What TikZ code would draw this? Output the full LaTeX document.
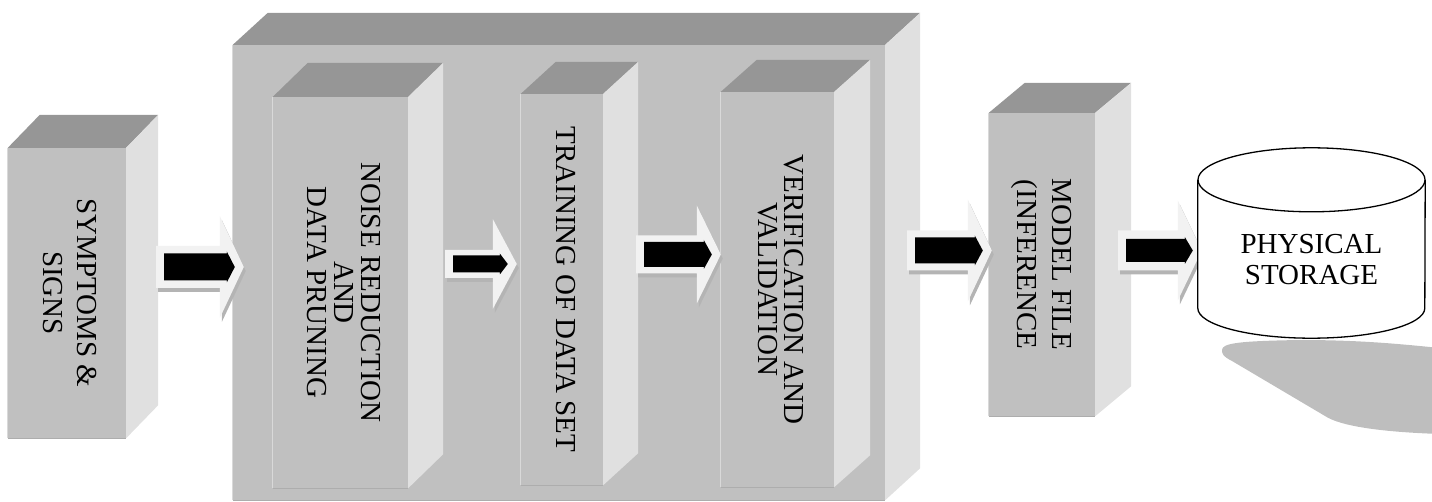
\documentclass[tikz,border=0pt]{standalone}
\usepackage{fontspec}
\setmainfont{Liberation Serif}
\usetikzlibrary{calc}

\definecolor{boxfront}{HTML}{C0C0C0}
\definecolor{boxtop}{HTML}{969696}
\definecolor{boxside}{HTML}{E0E0E0}
\definecolor{arrowlight}{HTML}{F2F2F2}
\definecolor{arrowshade}{HTML}{B4B4B4}
\definecolor{dropshade}{HTML}{BEBEBE}

\tikzset{
  face/.style={fill=boxfront, inner sep=0pt},
  topface/.style={fill=boxtop},
  sideface/.style={fill=boxside},
  lightedge/.style={draw=black!15, line width=1pt},
  darkedge/.style={draw=black!32, line width=1pt},
  storelabel/.style={align=center, font=\fontsize{29pt}{31pt}\selectfont},
}

% rotated text for the blocks
\newcommand{\vlabel}[2]{\rotatebox{-90}{\fontsize{29pt}{#1}\selectfont\begin{tabular}{@{}c@{}}#2\end{tabular}}}

% top and side faces of a block
\newcommand{\cube}[3]{%
  \fill[topface] (#1.north west) -- ++(#2,-#3) -- ([shift={(#2,-#3)}]#1.north east) -- (#1.north east) -- cycle;
  \fill[sideface] (#1.north east) -- ++(#2,-#3) -- ([shift={(#2,-#3)}]#1.south east) -- (#1.south east) -- cycle;
  \draw[lightedge] (#1.south west) -- (#1.north west);
  \draw[darkedge] (#1.south west) -- (#1.south east);
}

% block arrow: start, tip, shaft half, head half, black half
\newcommand{\flowarrow}[5]{%
  \fill[arrowshade] let \p1=#1, \p2=#2 in
    ({\x1+2pt},{\y1+#3pt-4pt}) -- ({\x2-22pt},{\y1+#3pt-4pt}) -- ({\x2-22pt},{\y1+#4pt-4pt})
    -- ({\x2+2pt},{\y1-4pt}) -- ({\x2-22pt},{\y1-#4pt-4pt}) -- ({\x2-22pt},{\y1-#3pt-4pt})
    -- ({\x1+2pt},{\y1-#3pt-4pt}) -- cycle;
  \fill[arrowlight] let \p1=#1, \p2=#2 in
    (\x1,{\y1+#3pt}) -- ({\x2-24pt},{\y1+#3pt}) -- ({\x2-24pt},{\y1+#4pt})
    -- (\x2,\y1) -- ({\x2-24pt},{\y1-#4pt}) -- ({\x2-24pt},{\y1-#3pt})
    -- (\x1,{\y1-#3pt}) -- cycle;
  \fill[black] let \p1=#1, \p2=#2 in
    ({\x1+8pt},{\y1+#5pt}) -- ({\x2-17pt},{\y1+#5pt}) -- ({\x2-17pt},{\y1+#5pt+2pt})
    -- ({\x2-9pt},\y1) -- ({\x2-17pt},{\y1-#5pt-2pt}) -- ({\x2-17pt},{\y1-#5pt})
    -- ({\x1+8pt},{\y1-#5pt}) -- cycle;
}

\begin{document}
\begin{tikzpicture}[x=1pt,y=-1pt]
\useasboundingbox (0,0) rectangle (1432,502);

% outer processing block
\node[face, minimum width=652pt, minimum height=455pt] (main) at (559,272.5) {};
\cube{main}{35}{32}

\node[face, minimum width=118pt, minimum height=290pt] (sym) at (67,293) {\vlabel{34pt}{SYMPTOMS \&\\SIGNS}};
\cube{sym}{32}{33}

\node[face, minimum width=135pt, minimum height=391pt] (noise) at (340.5,292.5) {\vlabel{25pt}{NOISE REDUCTION\\AND\\DATA PRUNING}};
\cube{noise}{35}{34}

\node[face, minimum width=82pt, minimum height=391pt] (train) at (562,289.5) {\vlabel{25pt}{TRAINING OF DATA SET}};
\cube{train}{35}{32}

\node[face, minimum width=113pt, minimum height=395pt] (verif) at (777.5,289.5) {\vlabel{24pt}{VERIFICATION AND\\VALIDATION}};
\cube{verif}{36}{32}

\node[face, minimum width=106pt, minimum height=303pt] (model) at (1042,264.5) {\vlabel{35pt}{MODEL FILE\\(INFERENCE}};
\cube{model}{36}{30}

% storage
\fill[dropshade] (1222,350) .. controls (1222,343) and (1240,341) .. (1300,340)
  .. controls (1360,340) and (1400,344) .. (1440,348) -- (1440,434)
  .. controls (1380,432) and (1340,426) .. (1325,416) -- (1232,361)
  .. controls (1222,356) and (1222,353) .. (1222,350) -- cycle;
\node[inner sep=0pt, minimum width=227pt, minimum height=128pt] (store) at (1311.5,244) {};

% arrows
\flowarrow{($(sym.east)+(30,-26)$)}{($(main.west)+(11,0)$)}{21}{51}{13.5}
\flowarrow{($(noise.east)+(37,-28.5)$)}{($(train.west)+(-4,0)$)}{14}{45}{8.5}
\flowarrow{($(train.east)+(33,-35)$)}{(verif.west)}{19}{49}{12.5}
\flowarrow{($(main.east)+(22,-22)$)}{($(model.west)+(3,0)$)}{20}{51}{13}
\flowarrow{($(model.east)+(23,-14)$)}{($(store.west)+(4,0)$)}{20}{50}{11.5}

\draw[fill=white, line width=1.3pt] (store.north west) -- (store.south west)
  arc[start angle=180, end angle=360, x radius=113.5pt, y radius=30pt] -- (store.north east);
\draw[fill=white, line width=1.3pt] (store.north) ellipse [x radius=113.5pt, y radius=32pt];
\node[storelabel] (storetext) at ($(store)+(0,16)$) {PHYSICAL\\STORAGE};
\end{tikzpicture}
\end{document}
